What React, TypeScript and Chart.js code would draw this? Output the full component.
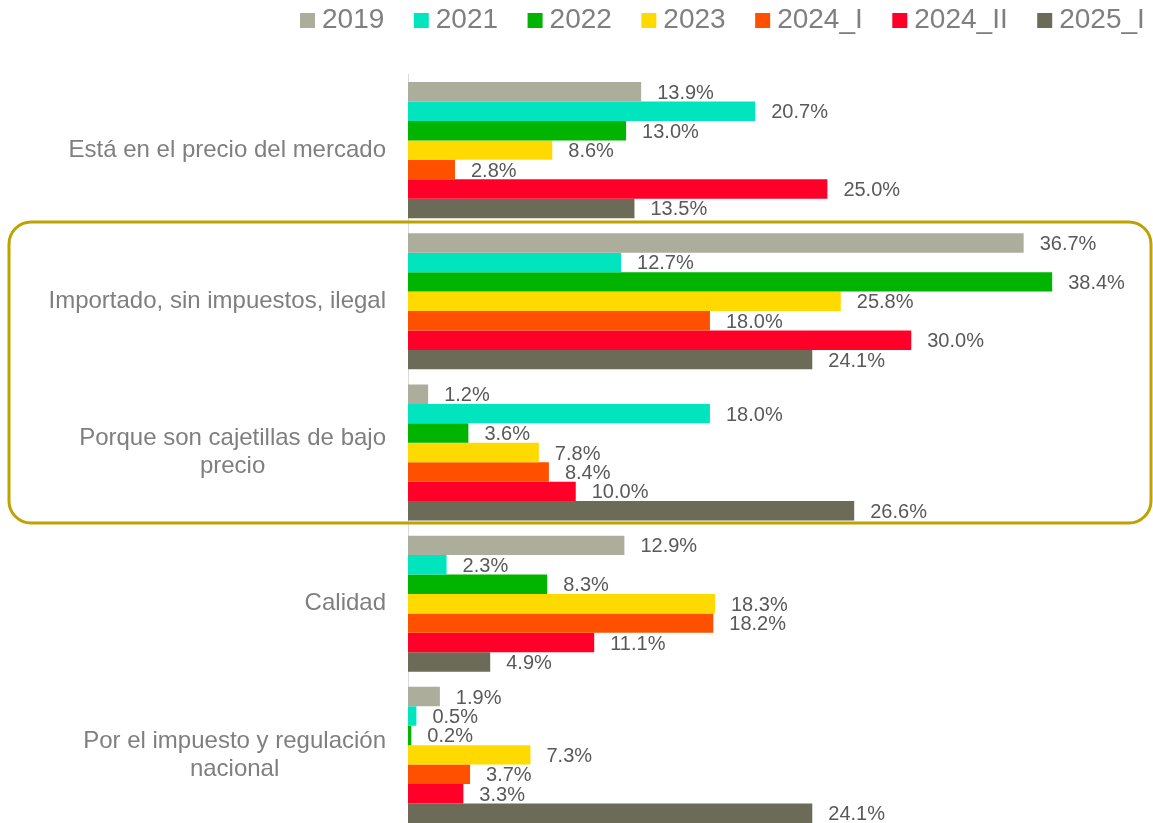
import React, { useEffect, useRef } from "react";
import { Chart, registerables } from "chart.js";

Chart.register(...registerables);

const categories: string[][] = [
  ["Está en el precio del mercado"],
  ["Importado, sin impuestos, ilegal"],
  ["Porque son cajetillas de bajo", "precio"],
  ["Calidad"],
  ["Por el impuesto y regulación", "nacional"],
];

const seriesNames = ["2019", "2021", "2022", "2023", "2024_I", "2024_II", "2025_I"];
const seriesColors = ["#ADAD9C", "#00E5BE", "#00B400", "#FFDA00", "#FF5000", "#FF0029", "#6B6B58"];

const v2019 = [13.9, 36.7, 1.2, 12.9, 1.9];
const v2021 = [20.7, 12.7, 18.0, 2.3, 0.5];
const v2022 = [13.0, 38.4, 3.6, 8.3, 0.2];
const v2023 = [8.6, 25.8, 7.8, 18.3, 7.3];
const v2024I = [2.8, 18.0, 8.4, 18.2, 3.7];
const v2024II = [25.0, 30.0, 10.0, 11.1, 3.3];
const v2025I = [13.5, 24.1, 26.6, 4.9, 24.1];

const seriesValues = [v2019, v2021, v2022, v2023, v2024I, v2024II, v2025I];

const FONT = "'Liberation Sans', Arial, sans-serif";

const categoryLabelPlugin = {
  id: "categoryLabels",
  afterDraw(chart: any) {
    const ctx = chart.ctx;
    const yScale = chart.scales.y;
    ctx.save();
    ctx.font = `24px ${FONT}`;
    ctx.fillStyle = "#7F7F7F";
    ctx.textAlign = "center";
    ctx.textBaseline = "middle";
    const right = 386;
    const lh = 28;
    categories.forEach((lines, i) => {
      const y = yScale.getPixelForValue(i);
      const w = Math.max(...lines.map((l) => ctx.measureText(l).width));
      const cx = right - w / 2;
      lines.forEach((l, k) => {
        ctx.fillText(l, cx, y + (k - (lines.length - 1) / 2) * lh);
      });
    });
    ctx.restore();
  },
};

const valueLabelPlugin = {
  id: "valueLabels",
  afterDatasetsDraw(chart: any) {
    const ctx = chart.ctx;
    ctx.save();
    ctx.font = `20px ${FONT}`;
    ctx.fillStyle = "#595959";
    ctx.textAlign = "left";
    ctx.textBaseline = "middle";
    chart.data.datasets.forEach((ds: any, di: number) => {
      const meta = chart.getDatasetMeta(di);
      meta.data.forEach((bar: any, i: number) => {
        const v = ds.data[i];
        ctx.fillText(v.toFixed(1) + "%", bar.x + 16, bar.y + 1.5);
      });
    });
    ctx.restore();
  },
};

const legendPlugin = {
  id: "customLegend",
  afterDraw(chart: any) {
    const ctx = chart.ctx;
    ctx.save();
    ctx.font = `28px ${FONT}`;
    ctx.textBaseline = "middle";
    ctx.textAlign = "left";
    let x = 300;
    const box = 15;
    chart.data.datasets.forEach((ds: any) => {
      ctx.fillStyle = ds.backgroundColor;
      ctx.fillRect(x, 13, box, box);
      ctx.fillStyle = "#7F7F7F";
      const tx = x + box + 7;
      ctx.fillText(ds.label, tx, 20);
      x = tx + ctx.measureText(ds.label).width + 29.5;
    });
    ctx.restore();
  },
};

const highlightPlugin = {
  id: "highlight",
  afterDraw(chart: any) {
    const ctx = chart.ctx;
    ctx.save();
    ctx.strokeStyle = "#BFA200";
    ctx.lineWidth = 3;
    const x = 9, y = 222, w = 1142, h = 301, r = 22;
    ctx.beginPath();
    ctx.moveTo(x + r, y);
    ctx.lineTo(x + w - r, y);
    ctx.arcTo(x + w, y, x + w, y + r, r);
    ctx.lineTo(x + w, y + h - r);
    ctx.arcTo(x + w, y + h, x + w - r, y + h, r);
    ctx.lineTo(x + r, y + h);
    ctx.arcTo(x, y + h, x, y + h - r, r);
    ctx.lineTo(x, y + r);
    ctx.arcTo(x, y, x + r, y, r);
    ctx.closePath();
    ctx.stroke();
    ctx.restore();
  },
};

export default function App() {
  const ref = useRef<HTMLCanvasElement>(null);
  useEffect(() => {
    if (!ref.current) return;
    const chart = new Chart(ref.current, {
      type: "bar",
      data: {
        labels: categories,
        datasets: seriesNames.map((name, i) => ({
          label: name,
          data: seriesValues[i],
          backgroundColor: seriesColors[i],
          borderWidth: 0,
          categoryPercentage: 0.9,
          barPercentage: 1.0,
        })),
      },
      options: {
        indexAxis: "y",
        animation: false,
        responsive: true,
        maintainAspectRatio: false,
        layout: { padding: { left: 408, right: 74, top: 74.5, bottom: 9.5 } },
        plugins: {
          legend: { display: false },
          tooltip: { enabled: false },
        },
        scales: {
          x: { display: false, min: 0, max: 40 },
          y: {
            display: true,
            ticks: { display: false },
            grid: { display: false, drawTicks: false },
            border: { display: true, color: "#D9D9D9", width: 1 },
          },
        },
      },
      plugins: [highlightPlugin, categoryLabelPlugin, valueLabelPlugin, legendPlugin],
    } as any);
    return () => chart.destroy();
  }, []);
  return (
    <div style={{ position: "fixed", left: 0, top: 0, width: 1153, height: 840, background: "#fff" }}>
      <canvas ref={ref} />
    </div>
  );
}
